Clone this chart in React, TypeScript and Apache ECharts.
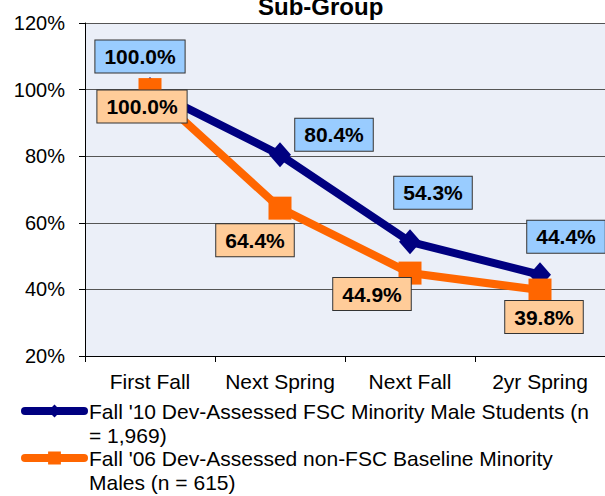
import React, { useEffect, useRef } from "react";
import * as echarts from "echarts";

const categories = ["First Fall", "Next Spring", "Next Fall", "2yr Spring"];
const fscValues = [100.0, 80.4, 54.3, 44.4];
const baselineValues = [100.0, 64.4, 44.9, 39.8];
const fscName = "Fall '10 Dev-Assessed FSC Minority Male Students (n = 1,969)";
const baselineName = "Fall '06 Dev-Assessed non-FSC Baseline Minority Males (n = 615)";
const fscLegendLines = ["Fall '10 Dev-Assessed FSC Minority Male Students (n", "= 1,969)"];
const baselineLegendLines = ["Fall '06 Dev-Assessed non-FSC Baseline Minority", "Males (n = 615)"];
const yMin = 20;
const yMax = 120;
const yInterval = 20;
const titleText = "Sub-Group";

// manual label placements (pixel offsets from each point), as in the original chart
const fscLabelOffsets = [[-10, -33], [54, -20], [23, -49], [26, -38]];
const baselineLabelOffsets = [[-8, 17], [-25, 32], [-38, 21], [4, 27]];

const FONT = "'Liberation Sans', Arial, sans-serif";

export default function App() {
  const ref = useRef<HTMLDivElement>(null);

  useEffect(() => {
    if (!ref.current) return;
    const chart = echarts.init(ref.current, undefined, { renderer: "svg" });

    const labelBase = {
      show: true,
      position: "inside",
      fontFamily: FONT,
      fontSize: 21,
      fontWeight: "bold",
      color: "#000",
      borderColor: "#333",
      borderWidth: 1,
      padding: [6, 9, 5, 9],
      formatter: (p: any) => Number(p.value).toFixed(1) + "%",
    };

    // a leading blank line keeps the first text line level with the legend icon
    const legendCommon = {
      orient: "vertical",
      left: 21,
      padding: 0,
      itemWidth: 59,
      itemHeight: 16,
      selectedMode: false,
      lineStyle: { width: 8, cap: "round" },
      textStyle: {
        fontFamily: FONT,
        fontSize: 21,
        lineHeight: 24,
        color: "#000",
      },
      formatter: (name: string) =>
        "\n" + (name === fscName ? fscLegendLines : baselineLegendLines).join("\n"),
    };

    chart.setOption({
      animation: false,
      backgroundColor: "#fff",
      title: {
        text: titleText,
        left: 258,
        top: -6,
        padding: 0,
        textStyle: { fontFamily: FONT, fontSize: 24, fontWeight: "bold", color: "#000" },
      },
      legend: [
        { ...legendCommon, top: 375, data: [fscName] },
        { ...legendCommon, top: 422, data: [baselineName] },
      ],
      grid: {
        left: 85,
        right: 0,
        top: 23,
        bottom: 140,
        show: true,
        backgroundColor: "#EBEFF8",
        borderWidth: 0,
      },
      xAxis: {
        type: "category",
        data: categories,
        boundaryGap: true,
        axisLine: { show: true, lineStyle: { color: "#000", width: 1 } },
        axisTick: { show: true, length: 6, lineStyle: { color: "#000" } },
        axisLabel: { fontFamily: FONT, fontSize: 21, color: "#000", margin: 15, interval: 0 },
        splitLine: { show: false },
      },
      yAxis: {
        type: "value",
        min: yMin,
        max: yMax,
        interval: yInterval,
        axisLine: { show: true, lineStyle: { color: "#000", width: 1 } },
        axisTick: { show: true, length: 6, lineStyle: { color: "#000" } },
        axisLabel: {
          fontFamily: FONT,
          fontSize: 20,
          color: "#000",
          margin: 20,
          formatter: "{value}%",
        },
        splitLine: { show: true, lineStyle: { color: "#555", width: 1 } },
      },
      series: [
        {
          name: fscName,
          type: "line",
          data: fscValues.map((v, i) => ({ value: v, label: { offset: fscLabelOffsets[i] } })),
          symbol: "diamond",
          symbolSize: [22, 25],
          lineStyle: { color: "#000080", width: 8 },
          itemStyle: { color: "#000080" },
          label: { ...labelBase, backgroundColor: "#99CCFF" },
        },
        {
          name: baselineName,
          type: "line",
          data: baselineValues.map((v, i) => ({ value: v, label: { offset: baselineLabelOffsets[i] } })),
          symbol: "rect",
          symbolSize: 23,
          lineStyle: { color: "#FF6600", width: 8 },
          itemStyle: { color: "#FF6600" },
          label: { ...labelBase, backgroundColor: "#FFCC99" },
        },
      ],
    });

    return () => chart.dispose();
  }, []);

  return (
    <div
      ref={ref}
      style={{ position: "fixed", left: 0, top: 0, width: 605, height: 496, overflow: "hidden" }}
    />
  );
}
